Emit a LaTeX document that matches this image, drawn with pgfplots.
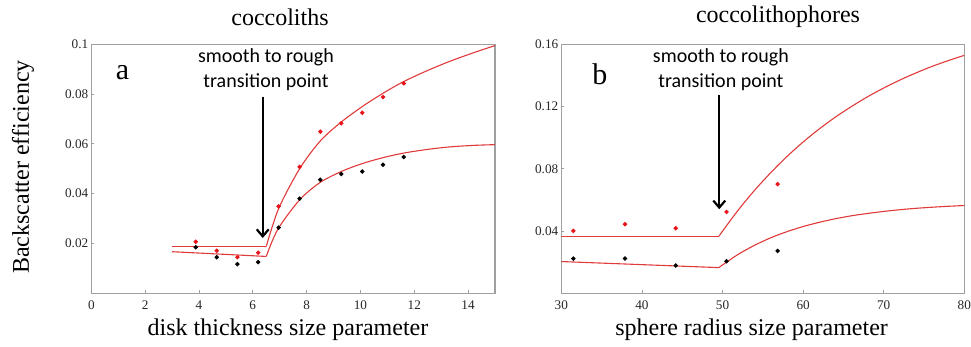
\documentclass[border=0pt]{standalone}
\usepackage{pgfplots}
\pgfplotsset{compat=1.18}
\usepackage{fontspec}
\setmainfont{Liberation Serif}
\newfontfamily\calib{Carlito}
\usetikzlibrary{arrows.meta}
\definecolor{dotred}{HTML}{E8141A}
\definecolor{curvered}{HTML}{E03A3A}
\definecolor{axgray}{HTML}{A0A0A0}
\pgfplotsset{
  myax/.style={
    scale only axis, height=124.5pt, anchor=south west,
    axis line style={axgray, line width=0.6pt},
    tick style={axgray, line width=0.4pt},
    tick align=inside, major tick length=1.5pt,
    xtick pos=bottom, ytick pos=left,
    ymin=0,
    ticklabel style={font=\rmfamily\fontsize{6.6}{8}\selectfont, text=black!85},
    /pgf/number format/assume math mode=true,
    xticklabel style={yshift=0pt},
    yticklabel style={xshift=2pt},
    clip=true,
  },
  cur/.style={curvered, line width=0.55pt, no marks},
  rdot/.style={only marks, mark=*, mark size=0.9pt, dotred, mark options={draw=dotred, fill=dotred}},
  bdot/.style={only marks, mark=*, mark size=0.9pt, black, mark options={draw=black, fill=black}},
}
\begin{document}
\begin{tikzpicture}
\useasboundingbox (0,0) rectangle (485.5pt,173.5pt);
% ---------- panel a ----------
\begin{axis}[myax, at={(45.65pt,26.85pt)}, width=201.85pt,
  xmin=0, xmax=15, ymax=0.1,
  xtick={0,2,4,6,8,10,12,14},
  xticklabels={0,2,4,6,8,10,12,14},
  ytick={0.02,0.04,0.06,0.08,0.1},
  yticklabels={0.02,0.04,0.06,0.08,0.1}]
\addplot[cur] coordinates {(3,0.0188) (6.5,0.0188)};
\addplot[cur, smooth] coordinates {(6.5,0.0188) (6.96,0.0340) (7.74,0.0500) (8.51,0.0612) (9.29,0.0688) (10.07,0.0750) (10.85,0.0804) (11.6,0.0850) (12.5,0.0895) (13.33,0.0932) (14.2,0.0966) (15,0.0995)};
\addplot[cur] coordinates {(3,0.0167) (6.5,0.0148)};
\addplot[cur, smooth] coordinates {(6.5,0.0148) (6.93,0.0257) (7.74,0.0375) (8.5,0.0445) (9.31,0.0490) (10.07,0.0521) (10.85,0.0545) (11.6,0.0563) (12.5,0.0578) (13.33,0.0588) (14.2,0.0594) (15,0.0597)};
\addplot[rdot] coordinates {(3.88,0.0207) (4.66,0.0171) (5.43,0.0145) (6.20,0.0163) (6.96,0.0349) (7.74,0.0508) (8.51,0.0649) (9.29,0.0683) (10.07,0.0725) (10.84,0.0788) (11.61,0.0843)};
\addplot[bdot] coordinates {(3.88,0.0185) (4.66,0.0145) (5.43,0.0117) (6.20,0.0125) (6.96,0.0264) (7.74,0.0380) (8.51,0.0456) (9.29,0.0479) (10.07,0.0489) (10.84,0.0516) (11.61,0.0547)};
\draw[black, line width=1.1pt, -{Straight Barb[length=3.5pt,width=6pt]}] (axis cs:6.37,0.079) -- (axis cs:6.37,0.0222);
\node[font=\calib\fontsize{10}{12.25}\selectfont, align=center] at (axis cs:6.49,0.0899) {smooth to rough\\transition point};
\node[font=\rmfamily\fontsize{15}{15}\selectfont] at (axis cs:1.16,0.0885) {a};
\end{axis}
% ---------- panel b ----------
\begin{axis}[myax, at={(280.65pt,26.85pt)}, width=201.5pt,
  xmin=30, xmax=80, ymax=0.16,
  xtick={30,40,50,60,70,80},
  xticklabels={30,40,50,60,70,80},
  ytick={0.04,0.08,0.12,0.16},
  yticklabels={0.04,0.08,0.12,0.16}]
\addplot[cur] coordinates {(30,0.0367) (49.56,0.0367)};
\addplot[cur, smooth] coordinates {(49.56,0.0367) (50,0.0399) (52,0.0538) (54,0.0663) (56,0.0776) (58,0.0879) (60,0.0972) (62,0.1056) (64,0.1132) (66,0.1200) (68,0.1263) (70,0.1319) (72,0.1370) (74,0.1416) (76,0.1458) (78,0.1495) (80,0.1529)};
\addplot[cur] coordinates {(30,0.0204) (49.56,0.0165)};
\addplot[cur, smooth] coordinates {(49.56,0.0165) (50,0.0182) (52,0.0252) (54,0.0309) (56,0.0357) (58,0.0396) (60,0.0429) (62,0.0456) (64,0.0479) (66,0.0498) (68,0.0513) (70,0.0526) (72,0.0537) (74,0.0546) (76,0.0553) (78,0.0559) (80,0.0564)};
\addplot[rdot] coordinates {(31.49,0.0401) (37.9,0.0444) (44.2,0.0418) (50.5,0.0523) (56.84,0.0701)};
\addplot[bdot] coordinates {(31.49,0.0223) (37.9,0.0223) (44.2,0.0178) (50.5,0.0206) (56.84,0.0272)};
\draw[black, line width=1.1pt, -{Straight Barb[length=3.5pt,width=6pt]}] (axis cs:49.6,0.1273) -- (axis cs:49.6,0.0540);
\node[font=\calib\fontsize{10}{12.25}\selectfont, align=center] at (axis cs:49.8,0.1437) {smooth to rough\\transition point};
\node[font=\rmfamily\fontsize{15}{15}\selectfont] at (axis cs:34.8,0.1408) {b};
\end{axis}
% ---------- titles and labels ----------
\node[font=\rmfamily\fontsize{12}{12}\selectfont] at (140pt,165pt) {coccoliths};
\node[font=\rmfamily\fontsize{12}{12}\selectfont] at (389pt,165pt) {coccolithophores};
\node[font=\rmfamily\fontsize{12}{12}\selectfont] at (144pt,8.5pt) {disk thickness size parameter};
\node[font=\rmfamily\fontsize{12}{12}\selectfont] at (375.8pt,8.5pt) {sphere radius size parameter};
\node[font=\rmfamily\fontsize{12}{12}\selectfont, rotate=90] at (11.5pt,90pt) {Backscatter efficiency};
\end{tikzpicture}
\end{document}
